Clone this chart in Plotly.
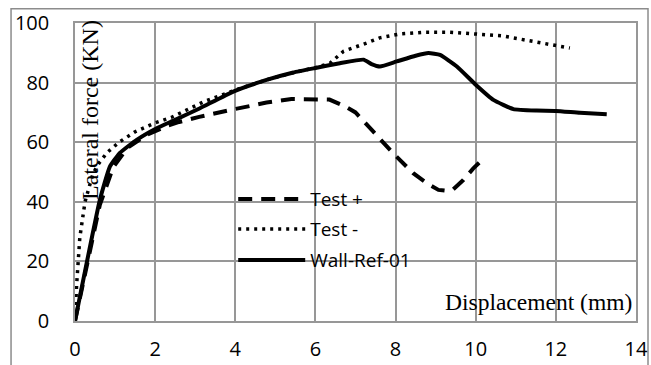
import plotly.graph_objects as go

# ---- data ----
test_pos_x = [0, 0.3, 0.62, 0.95, 1.3, 1.8, 2.3, 2.6, 3.1, 3.95, 4.78, 5.4, 6.1, 6.35, 6.7, 7.0,
              7.44, 7.94, 8.44, 8.78, 9.07, 9.28, 9.44, 9.69, 9.94, 10.2]
test_pos_y = [0, 19, 39, 51.5, 58, 62.5, 65.5, 66.8, 68.5, 71.0, 73.3, 74.5, 74.5, 74.3, 72.3, 70.0,
              63.6, 56.3, 49.6, 46.2, 44.0, 43.7, 44.2, 47.3, 51.2, 54.6]

test_neg_x = [0, 0.04, 0.12, 0.25, 0.45, 0.6, 0.8, 1.1, 1.5, 2.0, 2.4, 3.2, 4.0, 4.8, 5.5, 6.0,
              6.36, 6.7, 7.28, 7.6, 8.1, 8.7, 9.36, 10.0, 10.65, 11.27, 11.94, 12.35]
test_neg_y = [0, 12, 28, 40, 49.5, 53, 56.5, 60, 63.5, 66.5, 68.3, 73.5, 77.5, 81, 83.5, 85,
              86.5, 90.5, 93.3, 95, 96.3, 96.9, 96.9, 96.4, 95.7, 94.2, 92.7, 91.6]

wall_x = [0, 0.62, 0.87, 1.12, 1.54, 2.04, 2.5, 3.12, 3.95, 4.78, 5.45, 6.0, 6.61, 7.2, 7.4, 7.61,
          8.03, 8.5, 8.82, 9.11, 9.53, 10.0, 10.44, 10.94, 11.52, 12.0, 12.6, 13.27]
wall_y = [0, 40.6, 51.8, 56.4, 60.8, 64.7, 67.5, 71.4, 77.0, 80.9, 83.4, 84.9, 86.5, 87.7, 86.2, 85.4,
          87.1, 89.0, 89.9, 89.3, 85.4, 79.3, 74.2, 71.1, 70.6, 70.5, 69.9, 69.4]

series_names = ["Test +", "Test -", "Wall-Ref-01"]
x_ticks = [0, 2, 4, 6, 8, 10, 12, 14]
y_ticks = [0, 20, 40, 60, 80, 100]

SANS = "Open Sans"
SERIF = "Liberation Serif"
GRID = "#979797"

fig = go.Figure()
fig.add_trace(go.Scatter(x=test_pos_x, y=test_pos_y, mode="lines", name=series_names[0],
                         line=dict(color="black", width=4, dash="14px,9px"), legend="legend"))
fig.add_trace(go.Scatter(x=test_neg_x, y=test_neg_y, mode="lines", name=series_names[1],
                         line=dict(color="black", width=3.5, dash="3px,5px"), legend="legend2"))
fig.add_trace(go.Scatter(x=wall_x, y=wall_y, mode="lines", name=series_names[2],
                         line=dict(color="black", width=4, shape="spline", smoothing=0.4),
                         legend="legend3"))

leg_common = dict(bgcolor="rgba(0,0,0,0)", borderwidth=0, font=dict(family=SANS, size=19, color="black"),
                  xanchor="left", yanchor="middle", itemwidth=67)

fig.update_layout(
    width=651, height=365,
    margin=dict(l=75, r=15, t=23, b=44),
    paper_bgcolor="white", plot_bgcolor="white",
    showlegend=True,
    legend=dict(x=0.282, y=0.409, **leg_common),
    legend2=dict(x=0.282, y=0.308, **leg_common),
    legend3=dict(x=0.282, y=0.204, **leg_common),
    xaxis=dict(range=[0, 14], tickvals=x_ticks, ticktext=[str(v) for v in x_ticks],
               showgrid=True, gridcolor=GRID, gridwidth=1.5, zeroline=False,
               showline=True, linecolor=GRID, linewidth=1.5, mirror=True,
               ticks="", ticklabelstandoff=9, automargin=False,
               tickfont=dict(family=SANS, size=20, color="black")),
    yaxis=dict(range=[0, 100], tickvals=y_ticks, ticktext=[str(v) for v in y_ticks],
               showgrid=True, gridcolor=GRID, gridwidth=1.5, zeroline=False,
               showline=True, linecolor=GRID, linewidth=1.5, mirror=True,
               ticks="", ticklabelstandoff=20, automargin=False,
               tickfont=dict(family=SANS, size=20, color="black")),
    shapes=[dict(type="rect", xref="paper", yref="paper", x0=-0.114, x1=1.0214, y0=-0.25, y1=1.048,
                 line=dict(color="#8c8c8c", width=1.5), layer="below")],
    annotations=[
        dict(text="Lateral force (KN)", xref="paper", yref="paper", x=0.0267, y=0.708,
             textangle=-90, showarrow=False, xanchor="center", yanchor="middle",
             font=dict(family=SERIF, size=24, color="black")),
        dict(text="Displacement (mm)", xref="paper", yref="paper", x=0.826, y=0.063,
             showarrow=False, xanchor="center", yanchor="middle",
             font=dict(family=SERIF, size=23.5, color="black")),
    ],
)

fig.write_html("out.html")
